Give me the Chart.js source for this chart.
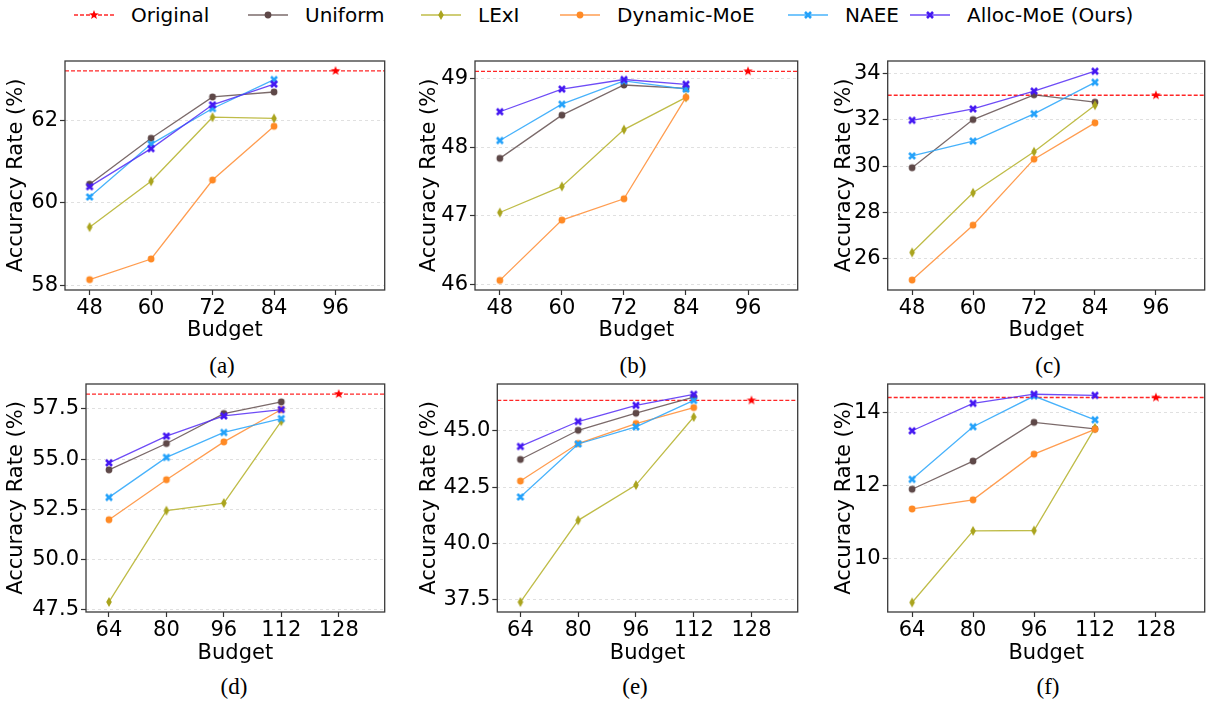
<!DOCTYPE html>
<html>
<head>
<meta charset="utf-8">
<script src="https://cdn.jsdelivr.net/npm/chart.js@4.4.1/dist/chart.umd.min.js"></script>
<style>
  body { margin: 0; width: 1210px; height: 702px; background: #fff; position: relative; overflow: hidden; font-family: "DejaVu Sans", sans-serif; }
  canvas.panel { position: absolute; }
  .cap { position: absolute; font-family: "Liberation Serif", serif; font-size: 23px; transform: translate(-50%, -50%); color: #000; }
  .leg-txt { position: absolute; top: 2px; font-size: 20px; line-height: 26px; color: #000; white-space: nowrap; }
  .leg-ico { position: absolute; top: 5px; }
</style>
</head>
<body>
<script>
// ---- datos ----
const budgetsTop = [48, 60, 72, 84];
const budgetsBottom = [64, 80, 96, 112];
const xTicksTop = [48, 60, 72, 84, 96];
const xTicksBottom = [64, 80, 96, 112, 128];

const originalBudget = [96, 96, 96, 128, 128, 128];
const originalAcc = [63.19, 49.11, 33.06, 58.24, 46.36, 14.41];

const uniformAcc = [
  [60.45, 61.56, 62.56, 62.68],
  [47.84, 48.47, 48.91, 48.86],
  [29.93, 32.01, 33.08, 32.76],
  [54.47, 55.78, 57.27, 57.85],
  [43.73, 45.03, 45.79, 46.51],
  [11.90, 12.67, 13.73, 13.55]
];
const lexiAcc = [
  [59.41, 60.52, 62.07, 62.04],
  [47.05, 47.43, 48.26, 48.73],
  [26.27, 28.85, 30.62, 32.63],
  [47.90, 52.44, 52.82, 56.89],
  [37.38, 41.02, 42.59, 45.62],
  [8.80, 10.76, 10.77, 13.58]
];
const dynamicAcc = [
  [58.14, 58.64, 60.55, 61.85],
  [46.06, 46.94, 47.25, 48.73],
  [25.08, 27.45, 30.30, 31.87],
  [51.99, 53.98, 55.86, 57.47],
  [42.77, 44.44, 45.33, 46.04],
  [11.36, 11.61, 12.86, 13.54]
];
const naeeAcc = [
  [60.14, 61.42, 62.28, 62.98],
  [48.10, 48.63, 48.97, 48.85],
  [30.44, 31.08, 32.26, 33.62],
  [53.10, 55.09, 56.33, 57.02],
  [42.06, 44.42, 45.18, 46.36],
  [12.17, 13.61, 14.45, 13.80]
];
const allocAcc = [
  [60.39, 61.31, 62.37, 62.87],
  [48.52, 48.85, 48.99, 48.92],
  [31.98, 32.47, 33.24, 34.10],
  [54.82, 56.15, 57.15, 57.47],
  [44.31, 45.42, 46.14, 46.63],
  [13.50, 14.25, 14.50, 14.47]
];

const yTicks = [
  [58, 60, 62],
  [46, 47, 48, 49],
  [26, 28, 30, 32, 34],
  [47.5, 50, 52.5, 55, 57.5],
  [37.5, 40, 42.5, 45],
  [10, 12, 14]
];
const yDecimals = [0, 0, 0, 1, 1, 0];
const yMin = [57.89, 45.92, 24.65, 47.40, 36.94, 8.54];
const yMax = [63.43, 49.26, 34.54, 58.74, 47.09, 14.78];
const xMinTop = 43.2, xMaxTop = 105.6;
const xMinBottom = 57.6, xMaxBottom = 140.8;
const captions = ['(a)', '(b)', '(c)', '(d)', '(e)', '(f)'];

// ---- estilos ----
const series = [
  { label: 'Uniform', data: uniformAcc, line: 'rgba(100,80,80,0.85)', mark: '#5e4848', shape: 'circle' },
  { label: 'LExI', data: lexiAcc, line: 'rgba(180,176,40,0.85)', mark: '#aaa41e', shape: 'thin_diamond' },
  { label: 'Dynamic-MoE', data: dynamicAcc, line: 'rgba(255,140,50,0.85)', mark: '#ff8a25', shape: 'circle' },
  { label: 'NAEE', data: naeeAcc, line: 'rgba(40,165,250,0.85)', mark: '#25a2fa', shape: 'X' },
  { label: 'Alloc-MoE (Ours)', data: allocAcc, line: 'rgba(85,45,245,0.85)', mark: '#4518f2', shape: 'X' }
];
const rojo = 'rgba(255,0,0,0.85)';

// posicion de cada panel: canvas (l,t,w,h), ancho eje y, alto eje x, relleno
const geo = [
  { l: 0,   t: 55,  w: 390, h: 290, yw: 65,   xh: 55, pt: 6, pr: 4 },
  { l: 413, t: 55,  w: 390, h: 290, yw: 62,   xh: 55, pt: 6, pr: 5.3 },
  { l: 828, t: 55,  w: 382, h: 290, yw: 59.7, xh: 55, pt: 6, pr: 1 },
  { l: 0,   t: 378, w: 390, h: 290, yw: 86,   xh: 56, pt: 6, pr: 4 },
  { l: 413, t: 378, w: 390, h: 290, yw: 84.3, xh: 56, pt: 6, pr: 5.3 },
  { l: 828, t: 378, w: 382, h: 290, yw: 59.7, xh: 56, pt: 6, pr: 1 }
];
const capPos = [[222, 366], [633, 366], [1048, 366], [234, 687], [635, 687], [1048, 687]];

function hacerMarca(shape, color) {
  let c = document.createElement('canvas');
  c.width = 14; c.height = 14;
  let g = c.getContext('2d');
  let m = 7;
  g.fillStyle = color;
  g.strokeStyle = color;
  if (shape === 'circle') {
    g.beginPath(); g.arc(m, m, 3.4, 0, Math.PI * 2); g.fill();
  } else if (shape === 'thin_diamond') {
    g.beginPath(); g.moveTo(m, m - 5); g.lineTo(m + 2.8, m); g.lineTo(m, m + 5); g.lineTo(m - 2.8, m); g.closePath(); g.fill();
  } else if (shape === 'X') {
    g.lineWidth = 2.6;
    g.beginPath(); g.moveTo(m - 3, m - 3); g.lineTo(m + 3, m + 3); g.moveTo(m + 3, m - 3); g.lineTo(m - 3, m + 3); g.stroke();
  } else if (shape === 'star') {
    g.beginPath();
    for (let k = 0; k < 10; k++) {
      let r = k % 2 === 0 ? 5 : 2.1;
      let a = -Math.PI / 2 + k * Math.PI / 5;
      let px = m + r * Math.cos(a), py = m + r * Math.sin(a);
      if (k === 0) g.moveTo(px, py); else g.lineTo(px, py);
    }
    g.closePath(); g.fill();
  }
  return c;
}

const marco = {
  id: 'marco',
  afterDraw(chart) {
    const { ctx, chartArea: a } = chart;
    ctx.save();
    ctx.strokeStyle = '#3a3a3a';
    ctx.lineWidth = 1.3;
    ctx.strokeRect(a.left, a.top, a.right - a.left, a.bottom - a.top);
    ctx.restore();
  }
};

const fuenteEje = { size: 21, family: 'DejaVu Sans' };

function cargarPanel(i) {
  let g = geo[i];
  let cv = document.createElement('canvas');
  cv.className = 'panel';
  cv.width = g.w; cv.height = g.h;
  cv.style.left = g.l + 'px'; cv.style.top = g.t + 'px';
  document.body.appendChild(cv);

  let arriba = i < 3;
  let xs = arriba ? budgetsTop : budgetsBottom;
  let xt = arriba ? xTicksTop : xTicksBottom;
  let xMin = arriba ? xMinTop : xMinBottom;
  let xMax = arriba ? xMaxTop : xMaxBottom;

  let datasets = [{
    label: 'Original',
    data: [{ x: xMin, y: originalAcc[i] }, { x: originalBudget[i], y: originalAcc[i] }, { x: xMax, y: originalAcc[i] }],
    borderColor: rojo,
    borderWidth: 1.3,
    borderDash: [4, 2],
    pointStyle: hacerMarca('star', '#ff0000'),
    pointRadius: [0, 5, 0],
    order: 6
  }];
  series.forEach((s, k) => {
    datasets.push({
      label: s.label,
      data: xs.map((x, j) => ({ x: x, y: s.data[i][j] })),
      borderColor: s.line,
      borderWidth: 1.3,
      pointStyle: hacerMarca(s.shape, s.mark),
      pointRadius: 4,
      order: 5 - k
    });
  });

  new Chart(cv, {
    type: 'line',
    data: { datasets: datasets },
    options: {
      responsive: false,
      animation: false,
      events: [],
      layout: { padding: { top: g.pt, right: g.pr, left: 0, bottom: 0 } },
      plugins: { legend: { display: false }, tooltip: { enabled: false } },
      elements: { line: { tension: 0 } },
      scales: {
        x: {
          type: 'linear',
          min: xMin,
          max: xMax,
          afterBuildTicks: s => { s.ticks = xt.map(v => ({ value: v })); },
          afterFit: s => { s.height = g.xh; s.paddingLeft = 0; s.paddingRight = 0; },
          grid: { drawOnChartArea: false, tickLength: 5, color: '#333', tickColor: '#333', tickWidth: 1.2 },
          border: { display: false },
          ticks: { font: fuenteEje, color: '#000', padding: 1, maxRotation: 0, autoSkip: false, callback: v => String(v) },
          title: { display: true, text: 'Budget', font: fuenteEje, color: '#000', padding: { top: 0, bottom: 2 } }
        },
        y: {
          min: yMin[i],
          max: yMax[i],
          afterBuildTicks: s => { s.ticks = yTicks[i].map(v => ({ value: v })); },
          afterFit: s => { s.width = g.yw; s.paddingTop = 0; s.paddingBottom = 0; },
          grid: { color: 'rgba(0,0,0,0.12)', lineWidth: 1, tickLength: 5, tickColor: '#333', tickWidth: 1.2 },
          border: { display: false, dash: [3, 3] },
          ticks: { font: fuenteEje, color: '#000', padding: 2, autoSkip: false, callback: v => Number(v).toFixed(yDecimals[i]) },
          title: { display: true, text: 'Accuracy Rate (%)', font: fuenteEje, color: '#000', padding: { top: 4, bottom: 2 } }
        }
      }
    },
    plugins: [marco]
  });

  let cap = document.createElement('div');
  cap.className = 'cap';
  cap.textContent = captions[i];
  cap.style.left = capPos[i][0] + 'px';
  cap.style.top = capPos[i][1] + 'px';
  document.body.appendChild(cap);
}

// ---- leyenda ----
function cargarLeyenda() {
  let items = [{ label: 'Original', line: rojo, mark: '#ff0000', shape: 'star', dash: true }].concat(series);
  let inicios = [131, 305, 478, 617, 845, 967];
  items.forEach((it, k) => {
    let ico = document.createElement('canvas');
    ico.className = 'leg-ico';
    ico.width = 42; ico.height = 20;
    ico.style.left = (inicios[k] - 58) + 'px';
    let c = ico.getContext('2d');
    c.strokeStyle = it.line;
    c.lineWidth = 1.5;
    if (it.dash) c.setLineDash([4, 2]);
    c.beginPath(); c.moveTo(1, 10); c.lineTo(41, 10); c.stroke();
    c.drawImage(hacerMarca(it.shape, it.mark), 21 - 7, 10 - 7);
    document.body.appendChild(ico);

    let txt = document.createElement('div');
    txt.className = 'leg-txt';
    txt.style.left = inicios[k] + 'px';
    txt.textContent = it.label;
    document.body.appendChild(txt);
  });
}

cargarLeyenda();
for (let i = 0; i < 6; i++) cargarPanel(i);
</script>
</body>
</html>
